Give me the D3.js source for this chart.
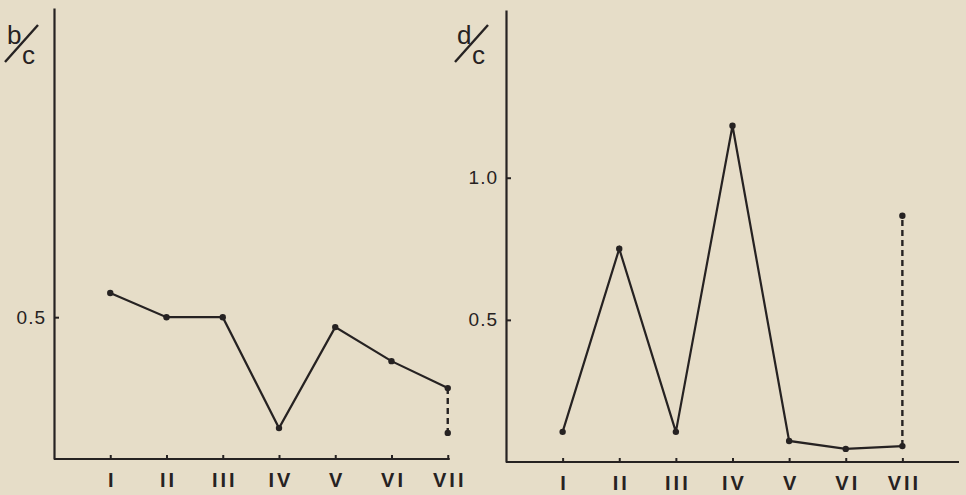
<!DOCTYPE html>
<html lang="en">
    <head>
        <meta charset="UTF-8">
        <title>b/c and d/c by stage</title>
        <script src="https://d3js.org/d3.v7.min.js"></script>
        <style>
            body { margin: 0; background-color: #e6ddc8; }
            svg { display: block; }
        </style>
    </head>
    <body>
        <div id="chart"></div>

        <script>
            // Stages on the x axis
            var stages = ["I", "II", "III", "IV", "V", "VI", "VII"];

            // Left panel: b/c
            var bcValues = [0.585, 0.50, 0.50, 0.109, 0.465, 0.345, 0.25];
            var bcDashedEnd = 0.092;   // VII lower value, joined by dashed line
            var bcTicks = [0.5];

            // Right panel: d/c
            var dcValues = [0.106, 0.75, 0.106, 1.183, 0.074, 0.046, 0.056];
            var dcDashedEnd = 0.866;   // VII upper value, joined by dashed line
            var dcTicks = [0.5, 1.0];

            var width = 966, height = 495;
            var ink = "#262222";
            var font = "'Liberation Sans', Arial, sans-serif";

            var svg = d3.select("#chart")
                .append("svg")
                    .attr("width", width)
                    .attr("height", height);

            // one panel = y axis, x axis, line, dots, dashed VII segment
            function drawPanel(opt) {
                var g = svg.append("g");

                var x = d3.scalePoint()
                    .domain(stages)
                    .range([opt.left, opt.right])
                    .padding(1);

                var y = d3.scaleLinear()
                    .domain([0, 1.59])
                    .range([opt.bottom, opt.top]);

                // y axis (ticks point inwards)
                var yAxis = g.append("g")
                    .attr("transform", "translate(" + opt.left + ",0)")
                    .call(d3.axisLeft(y)
                        .tickValues(opt.ticks)
                        .tickFormat(d3.format(".1f"))
                        .tickSizeInner(-5)
                        .tickSizeOuter(0)
                        .tickPadding(8));
                yAxis.select(".domain").attr("stroke", ink).attr("stroke-width", 2.2);
                yAxis.selectAll(".tick line").attr("stroke", ink).attr("stroke-width", 2);
                yAxis.selectAll(".tick text")
                    .attr("fill", ink)
                    .style("font-family", font)
                    .style("font-size", "19px")
                    .style("letter-spacing", "1px");

                // x axis
                var xAxis = g.append("g")
                    .attr("transform", "translate(0," + opt.bottom + ")")
                    .call(d3.axisBottom(x)
                        .tickSizeInner(-4)
                        .tickSizeOuter(0)
                        .tickPadding(14));
                xAxis.select(".domain").remove();
                xAxis.selectAll(".tick line").attr("stroke", ink).attr("stroke-width", 2);
                xAxis.selectAll(".tick text")
                    .attr("fill", ink)
                    .attr("dx", "1.5px")
                    .style("font-family", font)
                    .style("font-weight", "bold")
                    .style("font-size", "20px")
                    .style("letter-spacing", "3px");

                g.append("line")
                    .attr("x1", opt.left)
                    .attr("x2", opt.axisEnd(x))
                    .attr("y1", opt.bottom)
                    .attr("y2", opt.bottom)
                    .attr("stroke", ink)
                    .attr("stroke-width", 2.2);

                // data line
                var line = d3.line()
                    .x(function (d, i) { return x(stages[i]); })
                    .y(function (d) { return y(d); });

                g.append("path")
                    .datum(opt.values)
                    .attr("d", line)
                    .attr("fill", "none")
                    .attr("stroke", ink)
                    .attr("stroke-width", 2.2);

                // dashed segment at VII
                var last = opt.values[opt.values.length - 1];
                g.append("line")
                    .attr("x1", x("VII"))
                    .attr("x2", x("VII"))
                    .attr("y1", y(last))
                    .attr("y2", y(opt.dashed))
                    .attr("stroke", ink)
                    .attr("stroke-width", 2.4)
                    .attr("stroke-dasharray", "6,4");

                var dots = opt.values.map(function (v, i) { return {s: stages[i], v: v}; });
                dots.push({s: "VII", v: opt.dashed});

                g.selectAll("circle")
                    .data(dots)
                    .enter()
                    .append("circle")
                        .attr("cx", function (d) { return x(d.s); })
                        .attr("cy", function (d) { return y(d.v); })
                        .attr("r", 3.2)
                        .attr("fill", ink);

                // axis title as a slashed fraction
                var lab = g.append("g")
                    .attr("transform", "translate(" + opt.labelX + ",0)")
                    .style("font-family", font)
                    .style("font-size", "26px")
                    .attr("fill", ink);
                lab.append("text").attr("x", 2).attr("y", 44).text(opt.num);
                lab.append("text").attr("x", 17).attr("y", 64).text("c");
                lab.append("line")
                    .attr("x1", 0).attr("y1", 62)
                    .attr("x2", 33).attr("y2", 25)
                    .attr("stroke", ink)
                    .attr("stroke-width", 2.4);
            }

            drawPanel({
                left: 54, right: 504, top: 8, bottom: 459,
                values: bcValues, dashed: bcDashedEnd, ticks: bcTicks,
                axisEnd: function (x) { return x("VII") + 2; },
                num: "b", labelX: 5
            });

            drawPanel({
                left: 506, right: 959, top: 10, bottom: 462,
                values: dcValues, dashed: dcDashedEnd, ticks: dcTicks,
                axisEnd: function (x) { return 959; },
                num: "d", labelX: 455
            });
        </script>
    </body>
</html>
